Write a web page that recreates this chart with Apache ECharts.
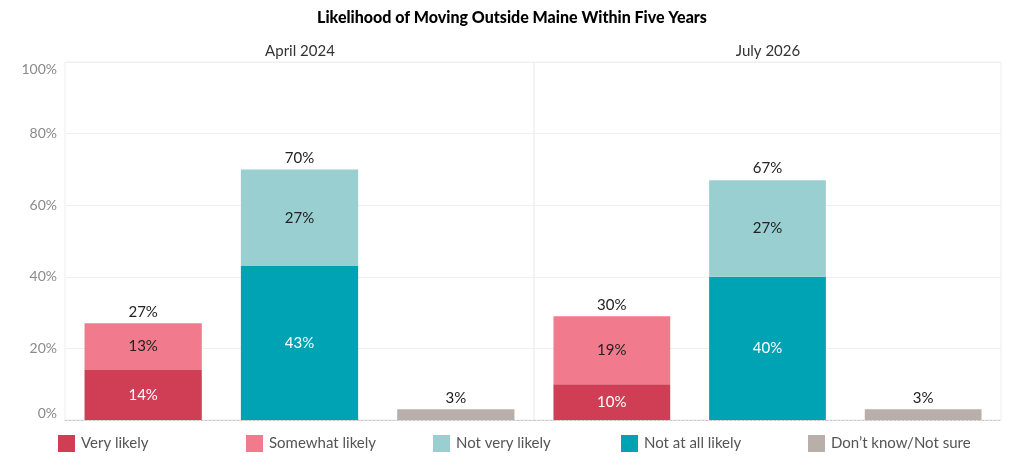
<!DOCTYPE html>
<html>
<head>
<meta charset="utf-8">
<script src="https://cdn.jsdelivr.net/npm/echarts@6/dist/echarts.min.js"></script>
<style>
  html, body { margin: 0; padding: 0; background: #fff; }
  #chart { width: 1024px; height: 472px; }
</style>
</head>
<body>
<div id="chart"></div>
<script>
// ---- Data ----
const chartTitle = 'Likelihood of Moving Outside Maine Within Five Years';
const periods = ['April 2024', 'July 2026'];
const categories = ['Likely', 'Not likely', "Don't know"];
const veryLikely = [14, 10];
const somewhatLikely = [13, 19];
const notVeryLikely = [27, 27];
const notAtAllLikely = [43, 40];
const dontKnow = [3, 3];
const likelyTotals = [27, 30];
const notLikelyTotals = [70, 67];
const yTicks = [0, 20, 40, 60, 80, 100];

const seriesNames = ['Very likely', 'Somewhat likely', 'Not very likely', 'Not at all likely', 'Don\u2019t know/Not sure'];
const colors = {
  'Very likely': '#d03e56',
  'Somewhat likely': '#f27a8d',
  'Not very likely': '#99cfd0',
  'Not at all likely': '#00a3b4',
  'Don\u2019t know/Not sure': '#b8aeaa'
};
const FONT = 'Lato';

const chart = echarts.init(document.getElementById('chart'), null, { renderer: 'canvas' });

const gridDefs = [
  { left: 65, top: 62, width: 469, height: 358 },
  { left: 534, top: 62, width: 467, height: 358 }
];

function pct(v) { return v + '%'; }

const series = [];
periods.forEach((p, gi) => {
  const stack = 'stack' + gi;
  const base = { type: 'bar', xAxisIndex: gi, yAxisIndex: gi, stack: stack, barCategoryGap: '25%',
    emphasis: { disabled: true } };
  const inside = (color) => ({ show: true, position: 'inside', fontFamily: FONT, fontSize: 15, color: color,
    formatter: (d) => pct(d.value) });
  series.push(Object.assign({}, base, {
    name: 'Very likely', data: [veryLikely[gi], '-', '-'],
    itemStyle: { color: colors['Very likely'] }, label: inside('#ffffff')
  }));
  series.push(Object.assign({}, base, {
    name: 'Somewhat likely', data: [somewhatLikely[gi], '-', '-'],
    itemStyle: { color: colors['Somewhat likely'] }, label: inside('#222222')
  }));
  series.push(Object.assign({}, base, {
    name: 'Not at all likely', data: ['-', notAtAllLikely[gi], '-'],
    itemStyle: { color: colors['Not at all likely'] }, label: inside('#ffffff')
  }));
  series.push(Object.assign({}, base, {
    name: 'Not very likely', data: ['-', notVeryLikely[gi], '-'],
    itemStyle: { color: colors['Not very likely'] }, label: inside('#222222')
  }));
  series.push(Object.assign({}, base, {
    name: 'Don\u2019t know/Not sure', data: ['-', '-', dontKnow[gi]],
    itemStyle: { color: colors['Don\u2019t know/Not sure'] },
    label: { show: true, position: 'top', distance: 4, fontFamily: FONT, fontSize: 15, color: '#222',
      formatter: (d) => pct(d.value) }
  }));
  const totals = [likelyTotals[gi], notLikelyTotals[gi], null];
  series.push(Object.assign({}, base, {
    name: 'total' + gi, data: [0, 0, '-'],
    itemStyle: { color: 'transparent' },
    label: { show: true, position: 'top', distance: 4, fontFamily: FONT, fontSize: 15, color: '#222',
      formatter: (d) => pct(totals[d.dataIndex]) },
    silent: true
  }));
});

const legends = [58, 246, 433, 621, 808].map((x, i) => ({
  data: [seriesNames[i]],
  left: x, top: 435, padding: 0,
  icon: 'rect', itemWidth: 17, itemHeight: 17,
  selectedMode: false,
  textStyle: { fontFamily: FONT, fontSize: 15, color: '#555555', padding: [0, 0, 0, 1] }
}));

const option = {
  backgroundColor: '#ffffff',
  animation: false,
  color: seriesNames.map(n => colors[n]),
  title: [
    { text: chartTitle, left: 512, top: 10, textAlign: 'center', padding: 0,
      textStyle: { fontFamily: FONT, fontSize: 16, fontWeight: 900, color: '#000' } },
    { text: periods[0], left: 300, top: 44, textAlign: 'center', padding: 0,
      textStyle: { fontFamily: FONT, fontSize: 15, fontWeight: 'normal', color: '#333' } },
    { text: periods[1], left: 768, top: 44, textAlign: 'center', padding: 0,
      textStyle: { fontFamily: FONT, fontSize: 15, fontWeight: 'normal', color: '#333' } }
  ],
  legend: legends,
  grid: gridDefs.map(g => Object.assign({ show: true, borderColor: '#eeeeee', borderWidth: 1,
    backgroundColor: 'transparent' }, g)),
  xAxis: periods.map((p, gi) => ({
    type: 'category', gridIndex: gi, data: categories,
    axisLine: { show: true, lineStyle: { color: '#c8c8c8', type: [2, 2], width: 1 } },
    axisTick: { show: false }, axisLabel: { show: false }
  })),
  yAxis: periods.map((p, gi) => ({
    type: 'value', gridIndex: gi, min: yTicks[0], max: yTicks[yTicks.length - 1], interval: 20,
    axisLine: { show: false }, axisTick: { show: false },
    splitLine: { show: true, lineStyle: { color: '#efefef', width: 1 } },
    axisLabel: gi === 0 ? {
      show: true, fontFamily: FONT, fontSize: 14, color: '#8a8a8a', margin: 8,
      formatter: (v) => v + '%',
      verticalAlignMinLabel: 'bottom', verticalAlignMaxLabel: 'top',
      padding: 0
    } : { show: false }
  })),
  series: series
};

chart.setOption(option);
</script>
</body>
</html>
